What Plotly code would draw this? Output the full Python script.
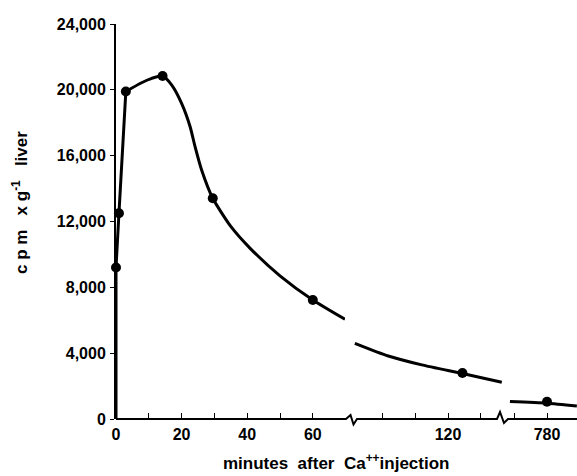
import plotly.graph_objects as go

# ---- data ----
# measured points
pt_min_1 = [0, 0.9, 3.0, 14.2, 29.5, 60.0]
pt_cpm_1 = [9200, 12500, 19900, 20840, 13410, 7230]
pt_min_2 = [124.4]
pt_cpm_2 = [2800]
pt_min_3 = [780]
pt_cpm_3 = [1050]

# drawn curve, segment by segment
rise_min = [0, 0, 0.9, 3.0]
rise_cpm = [0, 9200, 12500, 19900]
curve_min_1 = [3.0, 7.8, 10.9, 14.2, 17.0, 20.0, 22.6, 24.1, 26.1, 29.5, 35.0, 40.9, 50.0, 60.0, 69.8]
curve_cpm_1 = [19900, 20430, 20700, 20840, 20290, 19180, 17760, 16550, 15130, 13410, 11700, 10370, 8700, 7230, 6060]
curve_min_2 = [91.6, 101.8, 112.0, 124.4, 136.4]
curve_cpm_2 = [4600, 3830, 3290, 2760, 2230]
curve_min_3 = [768.7, 780, 789.1]
curve_cpm_3 = [1060, 960, 790]

# axis ticks
x1_ticks = [0, 20, 40, 60]
x1_labels = ["0", "20", "40", "60"]
x2_ticks = [120]
x2_labels = ["120"]
x3_ticks = [780]
x3_labels = ["780"]
minor_step = 10
y_ticks = [0, 4000, 8000, 12000, 16000, 20000, 24000]
y_labels = ["0", "4,000", "8,000", "12,000", "16,000", "20,000", "24,000"]

# ---- layout geometry (pixels) ----
W, H = 577, 476
L, R, T, B = 116, 0, 24, 57
PW, PH = W - L - R, H - T - B
X0 = H - B  # pixel row of the x axis


def px(xpix):
    return (xpix - L) / PW


def py(ypix):
    return (X0 - ypix) / PH


FONT = "Liberation Sans, Arial, sans-serif"
tickfont = dict(family=FONT, size=16, color="black", weight="bold")

fig = go.Figure()

spline_style = dict(color="black", width=3, shape="spline", smoothing=0.6)
straight_style = dict(color="black", width=3, shape="linear")
marker_style = dict(color="black", size=10)

fig.add_trace(go.Scatter(x=rise_min, y=rise_cpm, mode="lines", line=straight_style,
                         xaxis="x", yaxis="y", hoverinfo="skip"))
fig.add_trace(go.Scatter(x=curve_min_1, y=curve_cpm_1, mode="lines", line=spline_style,
                         xaxis="x", yaxis="y", hoverinfo="skip"))
fig.add_trace(go.Scatter(x=pt_min_1, y=pt_cpm_1, mode="markers", marker=marker_style,
                         cliponaxis=False, xaxis="x", yaxis="y"))
fig.add_trace(go.Scatter(x=curve_min_2, y=curve_cpm_2, mode="lines", line=spline_style,
                         xaxis="x2", yaxis="y", hoverinfo="skip"))
fig.add_trace(go.Scatter(x=pt_min_2, y=pt_cpm_2, mode="markers", marker=marker_style,
                         cliponaxis=False, xaxis="x2", yaxis="y"))
fig.add_trace(go.Scatter(x=curve_min_3, y=curve_cpm_3, mode="lines", line=spline_style,
                         xaxis="x3", yaxis="y", hoverinfo="skip"))
fig.add_trace(go.Scatter(x=pt_min_3, y=pt_cpm_3, mode="markers", marker=marker_style,
                         cliponaxis=False, xaxis="x3", yaxis="y"))

scale = 3.28  # pixels per minute
d1 = (116, 345)
d2 = (352, 504)
d3 = (506, 577)

xcommon = dict(showline=False, showgrid=False, zeroline=False, ticks="inside",
               ticklen=6, tickwidth=1, tickcolor="black", tickfont=tickfont,
               ticklabelstandoff=4, anchor="y",
               minor=dict(ticks="inside", ticklen=6, tickwidth=1, tickcolor="black",
                          dtick=minor_step, tick0=0, showgrid=False))

fig.update_layout(
    width=W, height=H,
    margin=dict(l=L, r=R, t=T, b=B),
    paper_bgcolor="white", plot_bgcolor="white",
    showlegend=False,
    xaxis=dict(domain=[px(d1[0]), px(d1[1])],
               range=[0, (d1[1] - d1[0]) / scale],
               tickvals=x1_ticks, ticktext=x1_labels, **xcommon),
    xaxis2=dict(domain=[px(d2[0]), px(d2[1])],
                range=[120 + (d2[0] - 448) / scale, 120 + (d2[1] - 448) / scale],
                tickvals=x2_ticks, ticktext=x2_labels, **xcommon),
    xaxis3=dict(domain=[px(d3[0]), px(d3[1])],
                range=[780 + (d3[0] - 547) / scale, 780 + (d3[1] - 547) / scale],
                tickvals=x3_ticks, ticktext=x3_labels, **xcommon),
    yaxis=dict(range=[0, 24000], tickvals=y_ticks, ticktext=y_labels,
               showline=True, linewidth=2, linecolor="black", mirror=False,
               showgrid=False, zeroline=False, ticks="outside", ticklen=4,
               tickwidth=1, tickcolor="black", tickfont=tickfont,
               ticklabelstandoff=1, anchor="x"),
)

# broken x-axis baseline with two zig-zag breaks
pts = [(116, X0), (346, X0), (350.5, 415), (353.5, 424.5), (357, X0),
       (497, X0), (500, 412), (504, 423), (508, X0), (577, X0)]
path = "M " + " L ".join(f"{px(a):.4f},{py(b):.4f}" for a, b in pts)
fig.add_shape(type="path", path=path, xref="paper", yref="paper",
              line=dict(color="black", width=2), layer="above")

NB = "\u00a0"
fig.add_annotation(text=f"minutes{NB*2}after{NB*2}Ca<sup>++</sup>injection",
                   xref="paper", yref="paper", x=px(336), y=py(462),
                   xanchor="center", yanchor="middle",
                   showarrow=False, font=dict(family=FONT, size=17, color="black", weight="bold"))
fig.add_annotation(text=f"c{NB}p{NB}m{NB*3}x{NB}g<sup>-1</sup>{NB*3}liver",
                   xref="paper", yref="paper", x=px(20), y=py(203), textangle=-90,
                   xanchor="center", yanchor="middle",
                   showarrow=False, font=dict(family=FONT, size=17, color="black", weight="bold"))

fig.write_html("out.html", config={"displayModeBar": False},
               post_script="document.body.style.margin='0px';")
